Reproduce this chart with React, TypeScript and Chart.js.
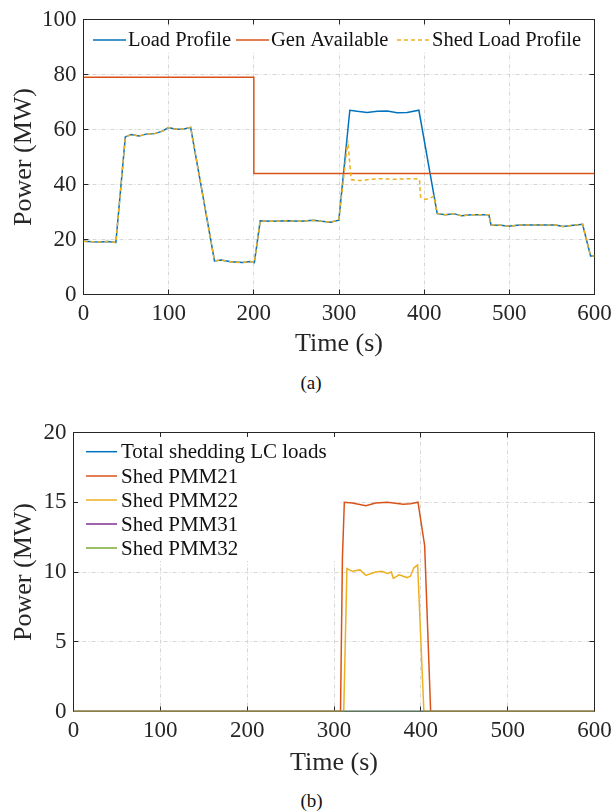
import React, { useEffect, useRef } from 'react';
import { Chart, registerables } from 'chart.js';

Chart.register(...registerables);

const FONT = '"Liberation Serif", "Times New Roman", serif';
const AXIS_COLOR = '#262626';

// ---------- Chart (a) data ----------
const loadTime = [
  0, 10, 20, 28, 38, 49.1, 56, 65.2, 74.4, 83.5, 92.7, 99.6, 108.8, 118, 125.8,
  153.8, 161.6, 173, 187, 196, 200.6, 207.5, 220, 240, 255, 269.5, 280, 290, 299.8,
  312.7, 321.4, 333, 345, 356.6, 368.3, 380, 393.8, 415.3, 425, 434.8, 444, 455,
  476, 478.5, 490, 499, 512, 530, 554, 563, 575, 586, 595.4, 600,
];
const loadPower = [
  19.4, 19.2, 19.1, 19.3, 18.9, 57.3, 58.2, 57.6, 58.4, 58.5, 59.4, 60.7, 60.1, 60.2, 60.8,
  12.2, 12.5, 11.9, 11.6, 12.0, 11.6, 26.8, 26.6, 26.8, 26.6, 27.0, 26.6, 26.3, 27.0,
  67.0, 66.6, 66.2, 66.6, 66.7, 66.1, 66.2, 67.0, 29.4, 29.0, 29.4, 28.6, 29.0,
  29.0, 25.3, 25.2, 24.8, 25.3, 25.3, 25.3, 24.7, 25.2, 25.5, 14.0, 14.0,
];
// Shed load profile where it departs from the load profile
const shedSegTime = [310.4, 314.3, 320, 328, 336, 350, 365, 380, 394.5, 395.7, 399.6, 405.5, 411.3];
const shedSegPower = [56.0, 41.8, 41.5, 41.4, 41.9, 42.1, 41.9, 42.1, 42.0, 35.5, 34.6, 34.8, 35.8];
const genTime = [0, 200, 200, 600];
const genPower = [79, 79, 44, 44];
const legendLabelsA = ['Load Profile', 'Gen Available', 'Shed Load Profile'];

// ---------- Chart (b) data ----------
const pmm21Time = [0, 307.5, 309.7, 311.9, 321, 336.7, 348, 361.5, 379.6, 388, 396.7, 404.4, 411.3, 600];
const pmm21Power = [0, 0, 11.0, 15.0, 14.95, 14.75, 14.95, 15.0, 14.85, 14.9, 15.0, 11.9, 0, 0];
const pmm22Time = [0, 311.2, 314.9, 321, 330, 336.7, 348, 355, 361.5, 366, 368.3, 375, 384, 388, 392, 396.3, 403.5, 600];
const pmm22Power = [0, 0, 10.25, 10.05, 10.15, 9.75, 10.0, 10.05, 9.9, 10.0, 9.55, 9.8, 9.6, 9.7, 10.3, 10.5, 0, 0];
const zeroTime = [0, 600];
const totalPower = [0, 0];
const pmm31Power = [0, 0];
const pmm32Power = [0, 0];
const legendLabelsB = ['Total shedding LC loads', 'Shed PMM21', 'Shed PMM22', 'Shed PMM31', 'Shed PMM32'];

const C_BLUE = '#0072BD';
const C_ORANGE = '#D95319';
const C_YELLOW = '#EDB120';
const C_PURPLE = '#7E2F8E';
const C_GREEN = '#77AC30';

const pts = (xs: number[], ys: number[]) => xs.map((x, i) => ({ x, y: ys[i] }));

function shedPoints() {
  const start = shedSegTime[0];
  const end = shedSegTime[shedSegTime.length - 1];
  const before = loadTime.map((t, i) => ({ x: t, y: loadPower[i] })).filter((p) => p.x < start);
  const after = loadTime.map((t, i) => ({ x: t, y: loadPower[i] })).filter((p) => p.x > end);
  return [...before, ...pts(shedSegTime, shedSegPower), ...after];
}

type LegendItem = { label: string; color: string; dash?: number[]; x: number; y: number };
type LegendSpec = { box: [number, number, number, number]; items: LegendItem[]; font: number; lineLen: number; textGap: number };

const crisp = (v: number) => Math.floor(v) + 0.5;

function makeFramePlugin(legend: LegendSpec) {
  return {
    id: 'matlabFrame',
    beforeDatasetsDraw(chart: any) {
      const { ctx, chartArea: a, scales } = chart;
      const xs = scales.x;
      const ys = scales.y;
      const L = crisp(a.left), R = crisp(a.right), T = crisp(a.top), B = crisp(a.bottom);
      ctx.save();
      // grid
      ctx.strokeStyle = '#d6d6d6';
      ctx.lineWidth = 1;
      ctx.setLineDash([4, 2, 1, 2]);
      xs.ticks.forEach((t: any) => {
        const px = crisp(xs.getPixelForValue(t.value));
        if (px <= L + 1 || px >= R - 1) return;
        ctx.beginPath();
        ctx.moveTo(px, T);
        ctx.lineTo(px, B);
        ctx.stroke();
      });
      ys.ticks.forEach((t: any) => {
        const py = crisp(ys.getPixelForValue(t.value));
        if (py <= T + 1 || py >= B - 1) return;
        ctx.beginPath();
        ctx.moveTo(L, py);
        ctx.lineTo(R, py);
        ctx.stroke();
      });
      ctx.setLineDash([]);
      // box
      ctx.strokeStyle = AXIS_COLOR;
      ctx.lineWidth = 1;
      ctx.strokeRect(L, T, R - L, B - T);
      // inward ticks
      const tl = 5;
      ctx.beginPath();
      xs.ticks.forEach((t: any) => {
        const px = crisp(xs.getPixelForValue(t.value));
        ctx.moveTo(px, B); ctx.lineTo(px, B - tl);
        ctx.moveTo(px, T); ctx.lineTo(px, T + tl);
      });
      ys.ticks.forEach((t: any) => {
        const py = crisp(ys.getPixelForValue(t.value));
        ctx.moveTo(L, py); ctx.lineTo(L + tl, py);
        ctx.moveTo(R, py); ctx.lineTo(R - tl, py);
      });
      ctx.stroke();
      ctx.restore();
    },
    afterDatasetsDraw(chart: any) {
      const { ctx } = chart;
      ctx.save();
      const [bx, by, bw, bh] = legend.box;
      ctx.fillStyle = '#ffffff';
      ctx.fillRect(bx, by, bw, bh);
      ctx.font = `${legend.font}px ${FONT}`;
      ctx.textBaseline = 'middle';
      ctx.textAlign = 'left';
      legend.items.forEach((it) => {
        ctx.strokeStyle = it.color;
        ctx.lineWidth = 1.5;
        ctx.setLineDash(it.dash || []);
        ctx.beginPath();
        ctx.moveTo(it.x, it.y);
        ctx.lineTo(it.x + legend.lineLen, it.y);
        ctx.stroke();
        ctx.setLineDash([]);
        ctx.fillStyle = '#111111';
        ctx.fillText(it.label, it.x + legend.lineLen + legend.textGap, it.y + 1);
      });
      ctx.restore();
    },
  };
}

function axisOptions(opts: {
  xTitle: string; yTitle: string; yMax: number; yStep: number; yWidth: number; xHeight: number; xTitleBottom: number;
}) {
  return {
    x: {
      type: 'linear',
      min: 0,
      max: 600,
      ticks: { stepSize: 100, font: { family: FONT, size: 23 }, color: AXIS_COLOR, padding: 6, maxRotation: 0, autoSkip: false },
      grid: { display: false, drawTicks: false },
      border: { display: false },
      title: { display: true, text: opts.xTitle, font: { family: FONT, size: 26 }, color: AXIS_COLOR, padding: { top: 0, bottom: opts.xTitleBottom } },
      afterFit: (s: any) => { s.height = opts.xHeight; s.paddingLeft = 0; s.paddingRight = 0; },
    },
    y: {
      type: 'linear',
      min: 0,
      max: opts.yMax,
      ticks: { stepSize: opts.yStep, font: { family: FONT, size: 23 }, color: AXIS_COLOR, padding: 7 },
      grid: { display: false, drawTicks: false },
      border: { display: false },
      title: { display: true, text: opts.yTitle, font: { family: FONT, size: 26 }, color: AXIS_COLOR, padding: { top: 8.4, bottom: 0 } },
      afterFit: (s: any) => { s.width = opts.yWidth; s.paddingTop = 0; s.paddingBottom = 0; },
    },
  };
}

function ChartA() {
  const ref = useRef<HTMLCanvasElement>(null);
  useEffect(() => {
    if (!ref.current) return;
    const legend: LegendSpec = {
      box: [88, 28, 501, 24],
      font: 20.5,
      lineLen: 33,
      textGap: 2,
      items: [
        { label: legendLabelsA[0], color: C_BLUE, x: 93, y: 40 },
        { label: legendLabelsA[1], color: C_ORANGE, x: 236, y: 40 },
        { label: legendLabelsA[2], color: C_YELLOW, dash: [4, 3], x: 397, y: 40 },
      ],
    };
    const chart = new Chart(ref.current, {
      type: 'line',
      data: {
        datasets: [
          { label: legendLabelsA[0], data: pts(loadTime, loadPower), borderColor: C_BLUE, borderWidth: 1.5, order: 3 },
          { label: legendLabelsA[1], data: pts(genTime, genPower), borderColor: C_ORANGE, borderWidth: 1.5, order: 2 },
          { label: legendLabelsA[2], data: shedPoints(), borderColor: C_YELLOW, borderWidth: 1.5, borderDash: [4, 3], order: 1 },
        ],
      } as any,
      options: {
        responsive: false,
        animation: false,
        devicePixelRatio: 1,
        layout: { padding: { left: 0, top: 19.5, right: 18.5, bottom: 0 } },
        elements: { point: { radius: 0 }, line: { tension: 0 } },
        plugins: { legend: { display: false }, tooltip: { enabled: false } },
        scales: axisOptions({ xTitle: 'Time (s)', yTitle: 'Power (MW)', yMax: 100, yStep: 20, yWidth: 83.5, xHeight: 70.5, xTitleBottom: 5.4 }) as any,
      },
      plugins: [makeFramePlugin(legend)],
    });
    return () => chart.destroy();
  }, []);
  return <canvas ref={ref} width={613} height={365} style={{ position: 'absolute', left: 0, top: 0, width: 613, height: 365 }} />;
}

function ChartB() {
  const ref = useRef<HTMLCanvasElement>(null);
  useEffect(() => {
    if (!ref.current) return;
    const colors = [C_BLUE, C_ORANGE, C_YELLOW, C_PURPLE, C_GREEN];
    const rows = [41.7, 66, 90, 114, 138];
    const legend: LegendSpec = {
      box: [78, 27, 262, 124],
      font: 21,
      lineLen: 31,
      textGap: 4,
      items: legendLabelsB.map((label, i) => ({ label, color: colors[i], x: 86, y: rows[i] })),
    };
    const chart = new Chart(ref.current, {
      type: 'line',
      data: {
        datasets: [
          { label: legendLabelsB[0], data: pts(zeroTime, totalPower), borderColor: C_BLUE, borderWidth: 1.5, order: 5 },
          { label: legendLabelsB[1], data: pts(pmm21Time, pmm21Power), borderColor: C_ORANGE, borderWidth: 1.5, order: 4 },
          { label: legendLabelsB[2], data: pts(pmm22Time, pmm22Power), borderColor: C_YELLOW, borderWidth: 1.5, order: 3 },
          { label: legendLabelsB[3], data: pts(zeroTime, pmm31Power), borderColor: C_PURPLE, borderWidth: 1.5, order: 2 },
          { label: legendLabelsB[4], data: pts(zeroTime, pmm32Power), borderColor: C_GREEN, borderWidth: 1.5, order: 1 },
        ],
      } as any,
      options: {
        responsive: false,
        animation: false,
        devicePixelRatio: 1,
        layout: { padding: { left: 0, top: 22.5, right: 18.5, bottom: 0 } },
        elements: { point: { radius: 0 }, line: { tension: 0 } },
        plugins: { legend: { display: false }, tooltip: { enabled: false } },
        scales: axisOptions({ xTitle: 'Time (s)', yTitle: 'Power (MW)', yMax: 20, yStep: 5, yWidth: 73.5, xHeight: 70.5, xTitleBottom: 3.5 }) as any,
      },
      plugins: [makeFramePlugin(legend)],
    });
    return () => chart.destroy();
  }, []);
  return <canvas ref={ref} width={613} height={372} style={{ position: 'absolute', left: 0, top: 410, width: 613, height: 372 }} />;
}

const captionStyle: React.CSSProperties = {
  position: 'absolute',
  width: 100,
  textAlign: 'center',
  fontFamily: FONT,
  fontSize: 19,
  lineHeight: '19px',
  color: '#111111',
};

export default function App() {
  return (
    <div style={{ position: 'absolute', left: 0, top: 0, width: 613, height: 811, background: '#ffffff', overflow: 'hidden' }}>
      <ChartA />
      <div style={{ ...captionStyle, left: 261, top: 373 }}>(a)</div>
      <ChartB />
      <div style={{ ...captionStyle, left: 261.5, top: 790.5 }}>(b)</div>
    </div>
  );
}
